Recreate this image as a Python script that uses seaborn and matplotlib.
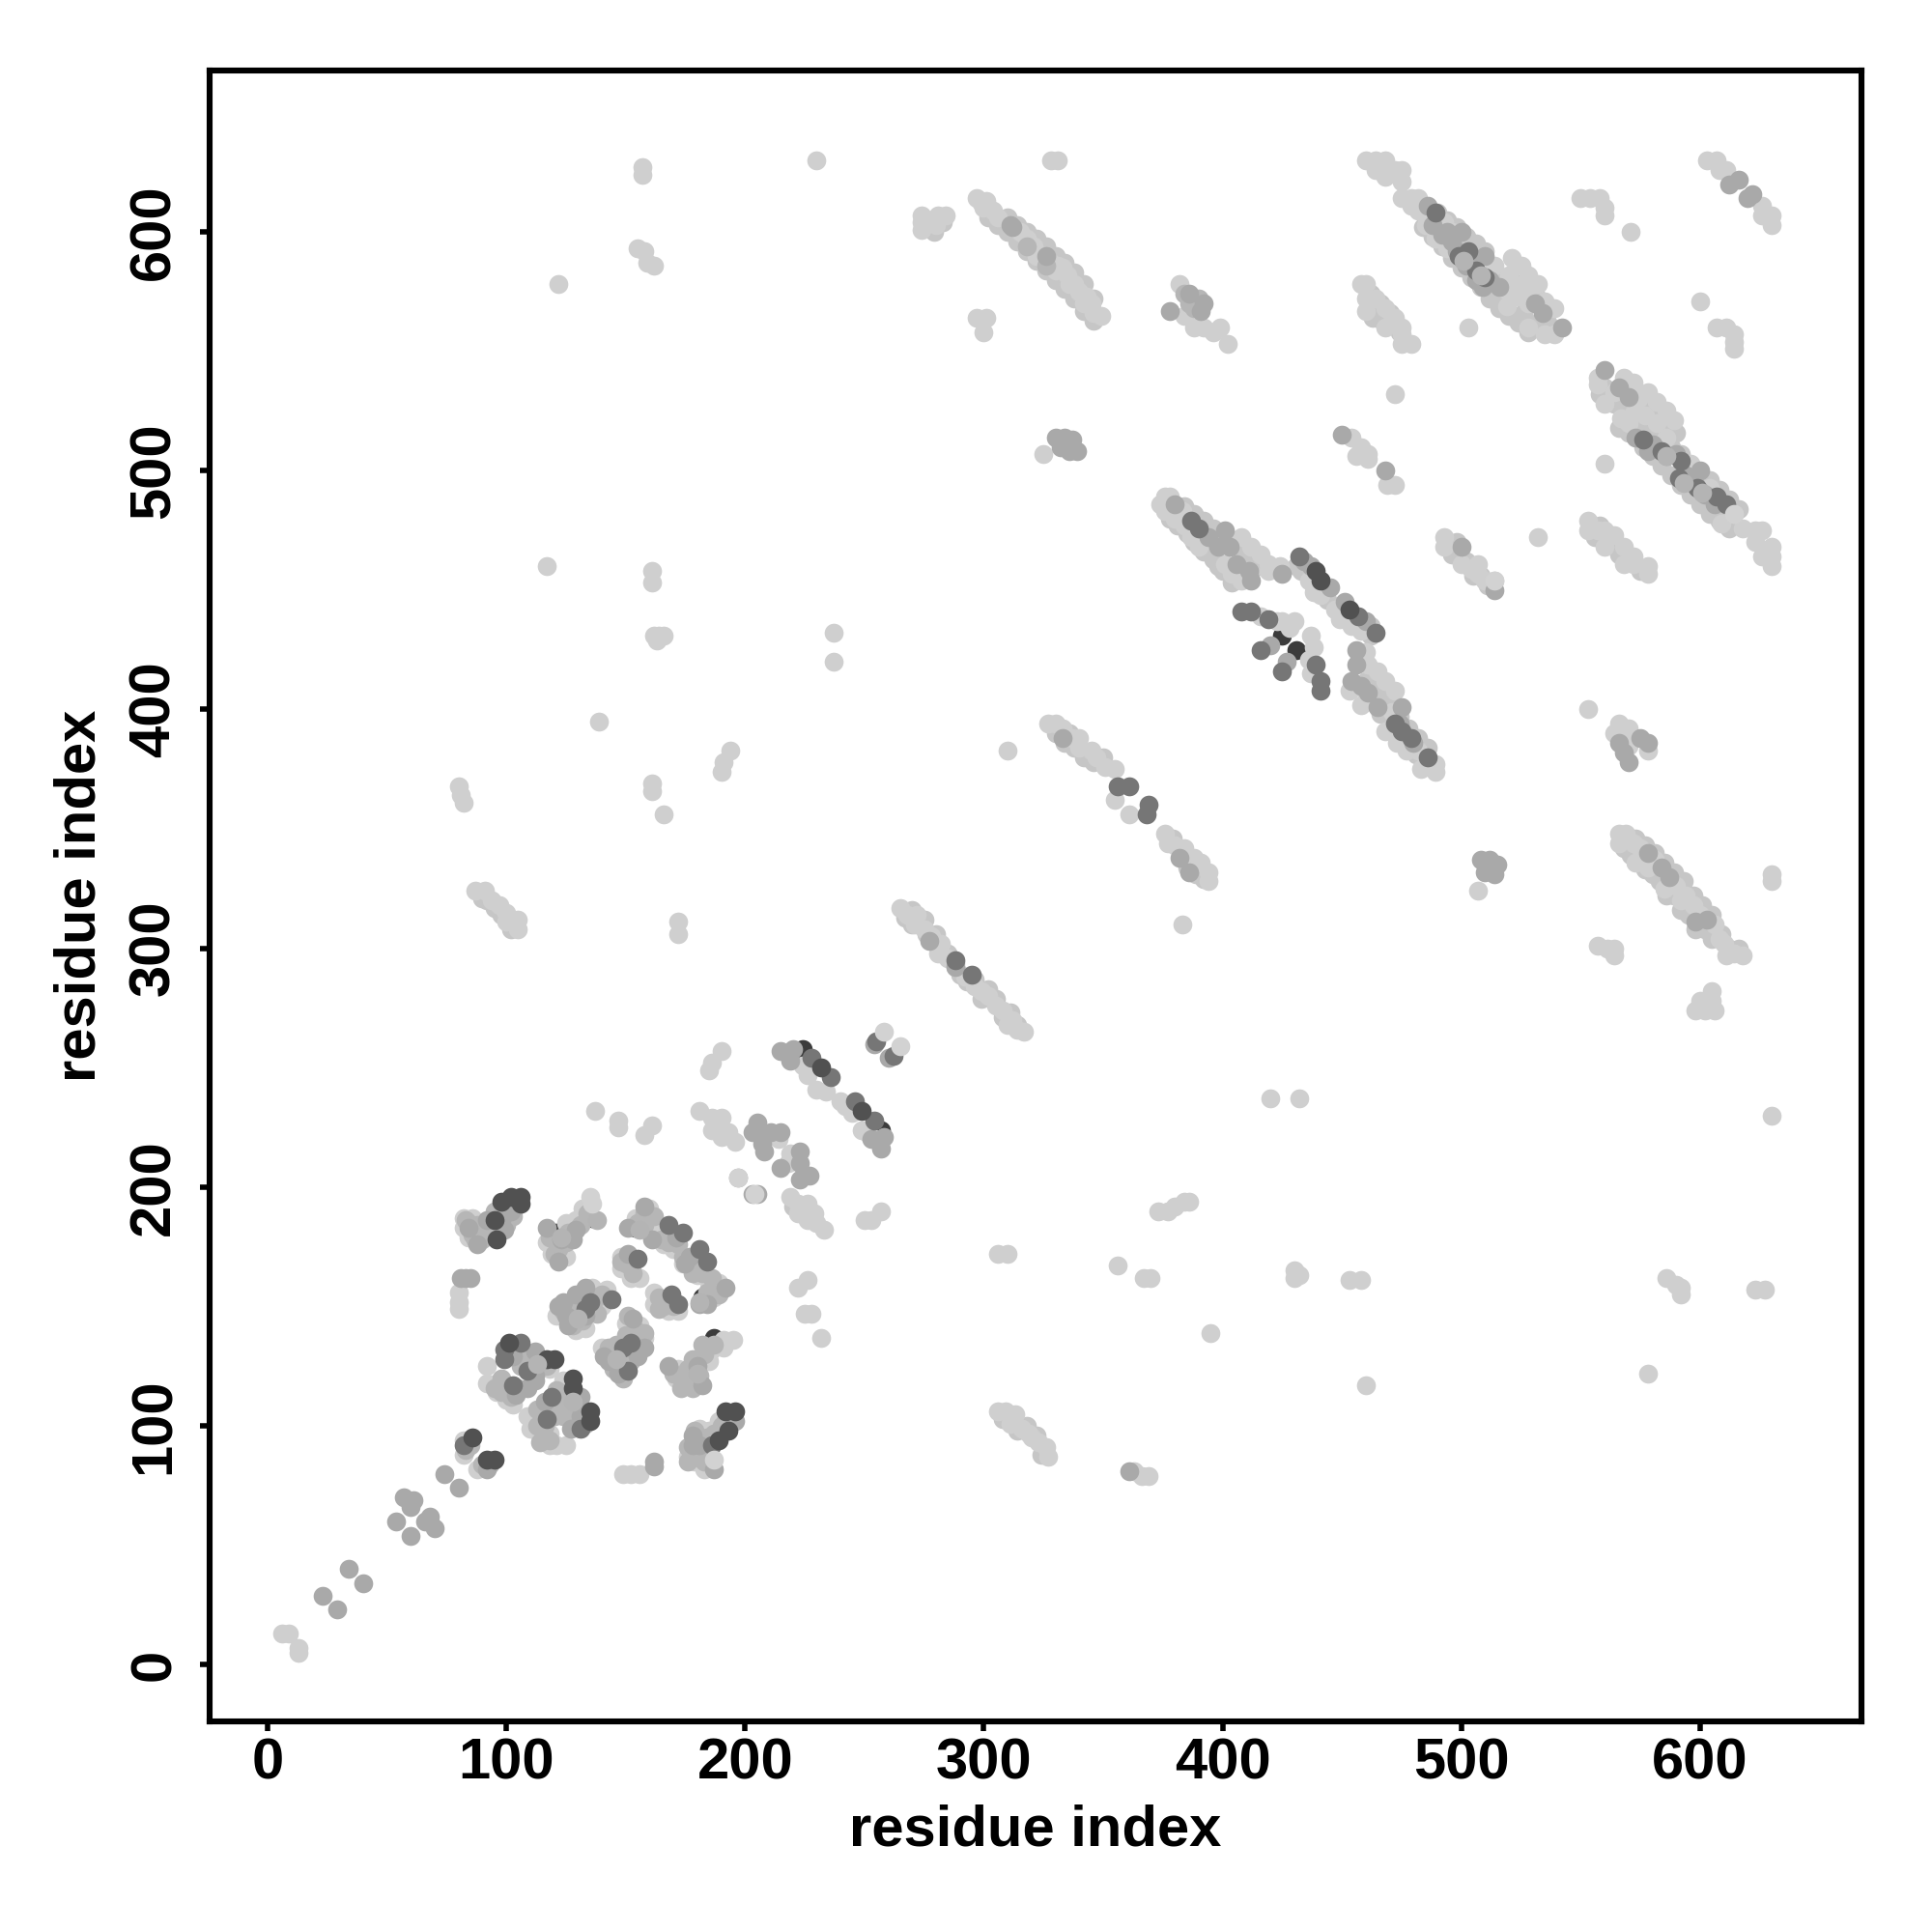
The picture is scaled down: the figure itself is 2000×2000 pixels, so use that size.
import pandas as pd
import matplotlib
matplotlib.use('Agg')
import matplotlib.pyplot as plt
import seaborn as sns

# contacts, (residue i, residue j), one list per grey level
hidden_dark = [(154, 183), (128, 146), (144, 129), (111, 127), (182, 154), (136, 187), (121, 181),
               (178, 120), (126, 112), (224, 258), (257, 224), (425, 431), (431, 425), (187, 137),
               (441, 454)]

# second and third rows of the long diagonal bands
pale = [(302, 606), (306, 603), (310, 600), (314, 596), (318, 592), (322, 588), (326, 584), (330, 580), (334, 576),
        (338, 572), (342, 567), (346, 563), (310, 606), (314, 603), (318, 600), (322, 597), (326, 594), (330, 590),
        (334, 587), (338, 583), (342, 578), (346, 572), (484, 602), (488, 598), (492, 594), (496, 589), (500, 585),
        (504, 581), (508, 577), (512, 572), (516, 568), (520, 565), (524, 562), (528, 558), (490, 608), (494, 605),
        (498, 602), (502, 598), (506, 595), (510, 592), (572, 516), (576, 510), (580, 506), (584, 502), (588, 498),
        (592, 494), (596, 490), (600, 486), (604, 482), (608, 479), (612, 476), (580, 516), (584, 512), (588, 510),
        (592, 507), (596, 500), (600, 497), (604, 496), (608, 492), (612, 488), (616, 484), (560, 535), (564, 528),
        (568, 526), (572, 526), (576, 528), (580, 524), (575, 520), (570, 516), (566, 518), (580, 518), (584, 518),
        (590, 516), (558, 532), (378, 480), (381, 477), (385, 474), (388, 470), (392, 466), (396, 463), (400, 458),
        (404, 453), (398, 460), (384, 485), (388, 482), (392, 479), (396, 476), (400, 472), (404, 470), (408, 466),
        (412, 463), (416, 460), (431, 460), (433, 458), (436, 456), (438, 452), (440, 450), (444, 446), (449, 440),
        (452, 438), (455, 436), (459, 434), (462, 431), (450, 444), (454, 440), (458, 437), (462, 435), (456, 410),
        (460, 404), (463, 403), (466, 398), (470, 395), (474, 390), (478, 385), (481, 381), (485, 377), (466, 406),
        (470, 403), (474, 397), (478, 392), (482, 388), (486, 384), (460, 412), (464, 410), (267, 313), (270, 310),
        (273, 310), (276, 306), (279, 303), (282, 300), (285, 298), (288, 294), (290, 289), (293, 286), (296, 287),
        (299, 279), (302, 283), (305, 279), (308, 271), (311, 273), (314, 268), (270, 316), (275, 312), (280, 306),
        (568, 342), (571, 339), (574, 338), (577, 333), (580, 331), (583, 328), (586, 322), (589, 322), (592, 316),
        (595, 314), (598, 308), (602, 308), (605, 304), (612, 300), (616, 300), (573, 346), (577, 343), (581, 340),
        (585, 336), (589, 332), (593, 328), (597, 322), (601, 318), (605, 314), (609, 306), (330, 390), (334, 386),
        (338, 384), (342, 380), (346, 378), (350, 380), (336, 390), (379, 346), (383, 339), (386, 336), (389, 331),
        (392, 329), (385, 334), (308, 103), (312, 103), (314, 98), (318, 100), (322, 96), (324, 88), (462, 574),
        (466, 570), (470, 562), (474, 558), (463, 564), (467, 563), (470, 566), (556, 472), (562, 470), (566, 465),
        (570, 462), (575, 458), (558, 477), (496, 465), (498, 470), (502, 462), (505, 456), (508, 456), (511, 452),
        (90, 321), (95, 317), (98, 314), (102, 308), (92, 320), (220, 192), (224, 190), (228, 186), (276, 603),
        (279, 600), (283, 604), (516, 580), (524, 578), (516, 572), (526, 566), (532, 572), (532, 562), (536, 562)]

light = [(6, 13), (9, 13), (13, 7), (13, 5), (82, 187), (82, 183), (86, 187), (84, 179), (90, 182), (85, 181),
         (80, 156), (80, 152), (80, 149), (132, 191), (132, 187), (129, 186), (125, 185), (117, 177), (119, 172),
         (125, 171), (121, 174), (154, 187), (160, 191), (162, 185), (164, 181), (166, 176), (170, 174),
         (174, 168), (178, 168), (180, 163), (185, 160), (189, 160), (187, 154), (148, 171), (148, 166),
         (152, 166), (156, 162), (152, 162), (162, 156), (166, 152), (162, 151), (168, 148), (172, 148),
         (121, 146), (136, 158), (142, 157), (140, 150), (129, 140), (133, 141), (150, 143), (156, 142),
         (158, 137), (140, 133), (148, 128), (150, 128), (172, 124), (171, 120), (175, 117), (185, 127),
         (186, 132), (191, 133), (191, 136), (195, 136), (92, 125), (92, 118), (96, 118), (99, 117), (96, 114),
         (100, 111), (103, 109), (107, 131), (118, 124), (124, 119), (123, 110), (126, 106), (109, 104), (112, 104),
         (110, 99), (114, 96), (118, 97), (118, 92), (121, 92), (125, 92), (82, 94), (82, 88), (88, 82), (92, 85),
         (189, 102), (185, 98), (181, 99), (182, 96), (176, 87), (179, 85), (183, 82), (149, 80), (152, 80), (156, 80),
         (137, 232), (147, 228), (147, 225), (161, 226), (158, 222), (186, 252), (190, 257), (185, 249),
         (181, 232), (186, 229), (190, 229), (186, 224), (190, 221), (196, 219), (193, 223),
         (224, 251), (226, 247), (230, 241), (234, 240), (240, 236), (242, 234), (245, 231), (249, 224), (252, 222),
         (214, 220), (219, 214), (218, 210), (219, 196), (222, 193), (226, 193), (229, 189), (222, 189), (226, 186),
         (230, 185), (233, 182), (257, 190), (250, 186), (253, 186), (306, 172), (310, 172), (226, 161), (222, 158),
         (225, 147), (228, 147), (232, 137), (157, 627), (157, 624), (230, 630), (328, 630), (331, 630),
         (155, 593), (158, 592), (159, 587), (162, 586), (122, 578), (274, 607), (274, 604), (274, 601), (278, 605),
         (281, 607), (284, 607), (280, 603), (297, 614), (299, 612), (301, 613), (300, 610), (304, 609), (306, 606),
         (315, 600), (318, 597), (321, 594), (322, 590), (328, 587), (330, 584), (333, 585), (335, 582), (338, 578),
         (340, 575), (343, 573), (345, 570), (346, 566), (349, 565), (342, 570), (336, 578), (331, 586), (297, 564),
         (301, 564), (300, 558), (382, 578), (384, 565), (388, 560), (392, 560), (396, 558), (399, 560), (402, 553),
         (460, 630), (464, 630), (468, 630), (464, 626), (468, 623), (472, 626), (475, 626), (475, 621), (475, 614),
         (479, 614), (482, 614), (479, 611), (482, 609), (485, 603), (490, 603), (493, 604), (489, 597), (494, 593),
         (496, 600), (514, 586), (521, 589), (525, 586), (528, 582), (532, 578), (518, 576), (522, 578), (519, 569),
         (523, 573), (528, 576), (520, 582), (528, 570), (528, 560), (535, 557), (539, 557), (535, 571), (539, 568),
         (458, 578), (460, 578), (460, 572), (464, 572), (460, 567), (468, 568), (472, 564), (468, 560), (475, 560),
         (475, 557), (475, 553), (479, 553), (471, 563), (503, 560), (472, 532), (603, 630), (607, 630), (608, 626),
         (611, 626), (626, 611), (630, 607), (626, 607), (630, 603), (550, 614), (554, 614), (558, 614), (560, 610),
         (560, 607), (571, 600), (600, 571), (607, 560), (611, 560), (614, 557), (614, 554), (614, 551),
         (557, 539), (557, 536), (560, 528), (568, 539), (572, 537), (564, 533), (567, 522), (570, 520), (578, 533),
         (582, 529), (586, 525), (589, 521), (574, 530), (577, 523), (572, 524), (582, 520), (586, 514), (596, 503),
         (604, 493), (614, 482), (609, 478), (618, 476), (623, 475), (626, 475), (623, 470), (630, 468), (630, 464),
         (630, 460), (626, 464), (532, 472), (560, 503), (553, 479), (553, 475), (560, 475), (557, 475), (560, 468),
         (564, 473), (568, 468), (568, 461), (572, 464), (572, 461), (578, 460), (578, 457), (493, 472), (493, 468),
         (500, 461), (504, 459), (507, 461), (507, 457), (514, 454), (510, 454), (454, 514), (461, 507), (456, 506),
         (461, 505), (458, 510), (469, 494), (472, 494), (325, 507), (117, 460), (161, 458), (161, 453), (162, 431),
         (164, 431), (166, 431), (163, 429), (237, 432), (237, 420), (139, 395), (80, 368), (81, 364), (82, 361),
         (161, 369), (161, 366), (166, 356), (194, 383), (191, 378), (190, 374), (310, 383), (383, 310), (172, 311),
         (172, 306), (87, 324), (91, 324), (94, 320), (97, 318), (100, 315), (102, 312), (105, 312), (105, 308),
         (100, 311), (265, 317), (268, 314), (272, 314), (271, 310), (275, 308), (278, 305), (282, 302), (281, 298),
         (285, 296), (288, 292), (292, 288), (296, 284), (299, 282), (302, 280), (305, 276), (308, 274), (312, 270),
         (314, 266), (317, 265), (310, 268), (327, 394), (330, 394), (333, 392), (337, 388), (340, 388), (340, 384),
         (345, 383), (347, 380), (351, 376), (355, 375), (355, 362), (361, 356), (376, 348), (377, 344), (380, 343),
         (384, 342), (388, 338), (391, 336), (394, 332), (394, 328), (376, 489), (378, 489), (374, 486), (376, 483),
         (383, 483), (380, 480), (384, 477), (387, 472), (390, 468), (408, 472), (412, 468), (416, 465), (419, 461),
         (424, 460), (419, 458), (401, 461), (408, 454), (404, 457), (436, 454), (438, 449), (441, 448), (447, 442),
         (449, 438), (454, 435), (458, 433), (416, 439), (425, 437), (430, 437), (423, 437), (428, 434), (437, 431),
         (438, 426), (436, 421), (437, 415), (460, 424), (461, 419), (465, 416), (468, 412), (472, 408), (453, 408),
         (458, 402), (471, 399), (468, 391), (473, 386), (477, 383), (482, 383), (489, 377), (483, 375), (489, 374),
         (553, 400), (566, 394), (570, 392), (564, 390), (578, 383), (570, 385), (507, 324), (630, 331), (630, 328),
         (566, 348), (569, 348), (566, 344), (572, 344), (575, 342), (573, 336), (581, 337), (578, 334), (585, 325),
         (590, 326), (594, 322), (592, 320), (597, 318), (600, 314), (606, 310), (608, 304), (610, 302), (614, 298),
         (618, 297), (611, 297), (557, 301), (561, 300), (564, 300), (564, 297), (605, 282), (605, 278), (600, 278),
         (598, 274), (602, 274), (606, 274), (630, 230), (420, 237), (432, 237), (430, 165), (432, 163), (430, 162),
         (453, 161), (458, 161), (367, 162), (370, 162), (356, 167), (373, 190), (377, 190), (380, 192), (384, 194),
         (386, 194), (395, 139), (460, 117), (578, 122), (586, 162), (590, 159), (592, 155), (592, 158), (623, 157),
         (627, 157), (306, 106), (309, 106), (313, 105), (311, 101), (316, 99), (319, 97), (323, 93), (326, 91),
         (327, 87), (320, 95), (363, 81), (366, 79), (369, 79)]

# grey filling of the blobs in the lower left corner
cluster_fill = [(84, 185), (86, 180), (90, 178), (88, 184), (93, 183), (96, 182), (99, 188), (100, 184), (103, 188),
                (104, 192), (100, 193), (92, 180), (87, 178), (83, 186), (95, 190), (118, 179), (120, 178), (125, 177),
                (128, 180), (131, 184), (134, 189), (122, 174), (126, 181), (120, 172), (155, 185), (158, 184),
                (162, 188), (165, 178), (168, 177), (170, 180), (172, 176), (176, 170), (180, 168), (182, 164),
                (186, 162), (184, 156), (178, 164), (174, 171), (189, 155), (158, 189), (150, 168), (153, 164),
                (148, 169), (153, 170), (164, 154), (166, 150), (170, 150), (168, 152), (164, 149), (124, 148),
                (126, 144), (128, 142), (127, 150), (130, 151), (132, 144), (136, 152), (138, 154), (140, 155),
                (130, 147), (138, 147), (126, 151), (150, 138), (154, 140), (155, 133), (146, 134), (144, 131),
                (148, 126), (152, 127), (145, 124), (149, 120), (153, 130), (158, 139), (151, 146), (143, 133),
                (170, 122), (174, 121), (176, 124), (178, 116), (181, 121), (183, 130), (187, 134), (178, 128),
                (182, 134), (173, 116), (101, 131), (105, 130), (107, 127), (110, 128), (106, 125), (114, 125),
                (113, 128), (95, 116), (98, 114), (102, 112), (105, 116), (98, 120), (117, 125), (121, 115),
                (124, 113), (125, 110), (124, 104), (127, 103), (131, 108), (129, 112), (133, 101), (113, 100),
                (116, 100), (114, 93), (118, 94), (122, 107), (120, 104), (113, 107), (176, 91), (180, 88), (183, 85),
                (186, 84), (178, 88), (183, 90), (184, 95), (187, 97), (190, 100), (192, 102), (179, 98), (176, 85),
                (83, 90), (85, 92), (90, 84), (93, 84), (318, 594), (326, 586), (386, 570), (390, 572), (384, 574),
                (388, 568)]

mid = [(83, 162), (85, 162), (81, 162), (88, 176), (84, 183), (92, 186), (99, 182), (102, 190), (98, 186),
       (117, 183), (129, 182), (123, 178), (122, 169), (128, 178), (151, 183), (158, 192), (171, 179), (161, 178),
       (175, 168), (177, 171), (192, 158), (181, 151), (184, 151), (151, 172), (122, 150), (124, 152), (129, 155),
       (133, 158), (126, 142), (125, 146), (133, 146), (153, 145), (141, 129), (143, 127), (155, 129), (158, 133),
       (147, 122), (168, 125), (182, 117), (180, 125), (103, 129), (112, 131), (112, 121), (109, 116), (112, 119),
       (104, 113), (131, 112), (116, 110), (127, 99), (131, 104), (92, 82), (74, 80), (80, 74), (57, 70), (61, 69),
       (60, 66), (54, 60), (60, 54), (68, 62), (66, 60), (70, 57), (68, 60), (23, 29), (29, 23), (34, 40), (40, 34),
       (196, 102), (178, 96), (178, 92), (187, 82), (181, 92), (162, 83), (162, 85), (215, 257), (220, 258), (219, 253),
       (253, 220), (258, 221), (257, 216), (205, 227), (203, 223), (207, 218), (208, 215), (215, 223), (211, 223),
       (223, 215), (223, 210), (215, 208), (223, 203), (227, 205), (197, 204), (205, 197), (203, 197), (254, 260),
       (260, 254), (311, 603), (312, 602), (326, 590), (386, 574), (392, 570), (378, 567), (391, 567), (500, 600),
       (510, 590), (509, 577), (534, 566), (531, 570), (542, 560), (486, 611), (612, 620), (616, 622), (620, 614),
       (622, 616), (560, 542), (566, 535), (570, 531), (573, 514), (580, 511), (590, 507), (600, 500), (468, 500),
       (500, 468), (514, 450), (450, 515), (330, 514), (334, 514), (337, 513), (332, 510), (336, 508), (339, 508),
       (335, 511), (361, 81), (333, 388), (382, 338), (386, 332), (380, 486), (394, 472), (401, 475), (398, 468),
       (403, 468), (406, 461), (425, 457), (412, 454), (411, 458), (434, 462), (437, 460), (445, 451), (451, 445),
       (460, 437), (420, 427), (427, 420), (456, 425), (456, 419), (454, 412), (458, 410), (461, 407), (465, 401),
       (475, 401), (508, 337), (512, 337), (515, 335), (510, 332), (514, 331), (566, 386), (568, 382), (570, 378),
       (575, 388), (578, 386), (578, 340), (584, 334), (587, 330), (603, 312), (598, 311), (288, 292), (277, 303),
       (488, 603), (492, 599), (496, 596), (504, 588), (512, 580), (516, 577), (586, 506), (594, 498), (598, 494),
       (602, 490), (606, 486), (578, 508), (474, 394), (480, 386), (494, 600), (498, 592), (502, 586), (506, 580)]

dark_mid = [(99, 132), (99, 128), (106, 135), (109, 123), (155, 170), (168, 184), (174, 181), (181, 174), (184, 169),
            (172, 151), (169, 155), (135, 152), (133, 149), (144, 153), (152, 135), (149, 133), (151, 123), (103, 117),
            (119, 112), (117, 103), (131, 99), (186, 92), (82, 92), (228, 254), (236, 246), (246, 236), (254, 228),
            (255, 261), (262, 255), (387, 479), (390, 476), (432, 464), (408, 441), (412, 441), (419, 438), (416, 425),
            (425, 416), (439, 419), (441, 412), (441, 408), (457, 439), (464, 432), (472, 394), (475, 391), (479, 388),
            (486, 380), (288, 295), (295, 289), (489, 608), (607, 489), (611, 486), (576, 513), (592, 504),
            (356, 368), (361, 368), (369, 360), (368, 356), (499, 590), (506, 584), (591, 497), (599, 493), (584, 508),
            (503, 592), (510, 581)]

dark = [(106, 196), (106, 193), (98, 194), (95, 186), (102, 196), (96, 178), (101, 135), (232, 250), (249, 232),
        (86, 95), (95, 86), (92, 86), (196, 106), (192, 106), (193, 98), (189, 94), (135, 106), (135, 102), (128, 120),
        (128, 116), (117, 128), (120, 128), (439, 458), (441, 454), (453, 442)]

# the few dots that sit over the dark ones
over = [(501, 588), (508, 582), (593, 495), (601, 491), (586, 506), (123, 179), (156, 182), (130, 145), (146, 128),
        (113, 126), (180, 122), (181, 152), (138, 186), (128, 110)]
top_light = [(258, 265), (265, 259), (197, 204), (204, 197), (135, 196), (136, 193), (187, 86), (614, 482), (514, 454)]

layers = [(hidden_dark, '#3c3c3c'), (pale, '#c6c6c6'), (light, '#cfcfcf'), (cluster_fill, '#b6b6b6'), (mid, '#a9a9a9'),
          (dark_mid, '#767676'), (dark, '#515151'), (over, '#b4b4b4'), (top_light, '#d2d2d2')]

fig = plt.figure(figsize=(10, 10), dpi=200)
ax = fig.add_axes([170 / 1568, 1 - 1397 / 1568, 1341 / 1568, 1340 / 1568])

for points, colour in layers:
    df = pd.DataFrame(points, columns=['i', 'j'])
    sns.scatterplot(x='i', y='j', data=df, color=colour, s=50, linewidth=0, ax=ax, legend=False)

ax.set_xlim(-24.3, 667.7)
ax.set_ylim(-23.7, 667.7)
ax.set_xticks(range(0, 601, 100))
ax.set_yticks(range(0, 601, 100))
for side in ax.spines.values():
    side.set_linewidth(2.2)
ax.tick_params(length=3.5, width=2)
ax.tick_params(axis='x', pad=2.5)
ax.tick_params(axis='y', pad=7)
for lab in ax.get_xticklabels():
    lab.set(family='Liberation Sans', fontweight='bold', fontsize=21.5)
for lab in ax.get_yticklabels():
    lab.set(family='Liberation Sans', fontweight='bold', fontsize=21.5, rotation=90, va='center')
ax.set_xlabel('residue index', family='Liberation Sans', fontweight='bold', fontsize=21.5, labelpad=5)
ax.set_ylabel('residue index', family='Liberation Sans', fontweight='bold', fontsize=21.5, labelpad=8)

fig.savefig('out.png', dpi=200)
